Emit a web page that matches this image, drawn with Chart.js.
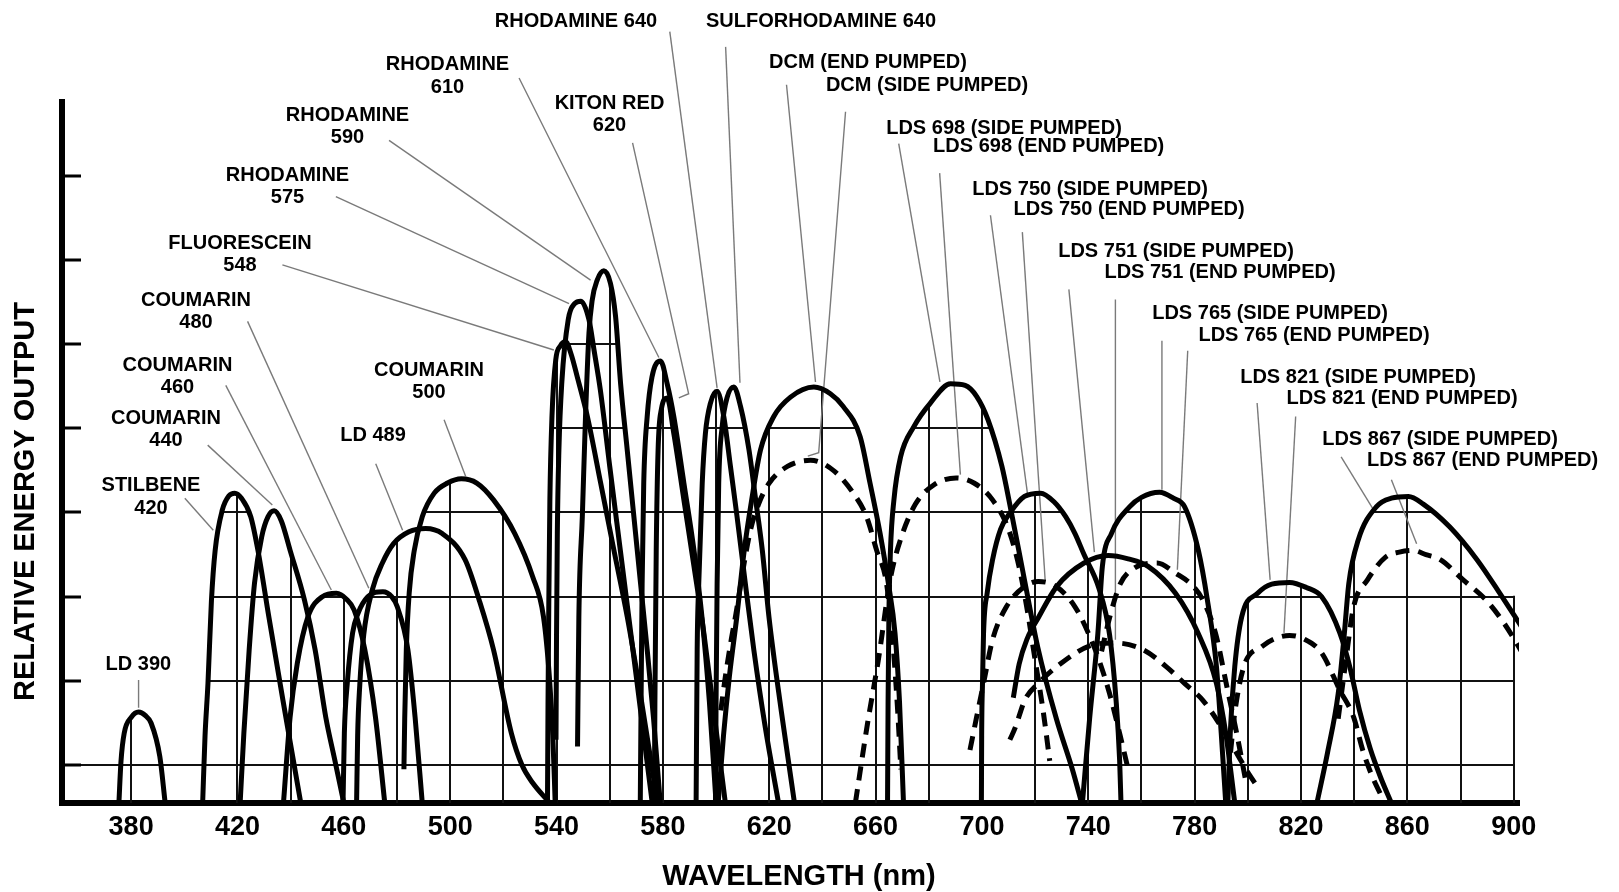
<!DOCTYPE html>
<html><head><meta charset="utf-8">
<script src="https://cdn.jsdelivr.net/npm/chart.js@4.4.1/dist/chart.umd.min.js"></script>
<style>html,body{margin:0;padding:0;background:#fff;}canvas{display:block;}</style>
</head><body>
<canvas id="c" width="1619" height="892"></canvas>
<script>
// ---------- data (wavelength nm, relative output) ----------
const xTickLabels = [380,420,460,500,540,580,620,660,700,740,780,820,860,900];
const xGridValues = [380,400,420,440,460,480,500,520,540,560,580,600,620,640,660,680,700,720,740,760,780,800,820,840,860,880,900];
const yTickValues = [4.5,14.5,24.5,34.5,44.5,54.5,64.5,74.5];
const yGridValues = [4.5,14.5,24.5,34.5,44.5,54.5];

const LD390 = [[375.4,0],[376.2,5],[377.4,8.3],[380.1,10.2],[382.8,10.8],[385.3,10.4],[387.5,9.5],[390.8,5.5],[392.8,0]];
const STILBENE420 = [[406.9,0],[407.8,8],[408.9,14.2],[410.2,24],[411.6,30],[414.3,34.8],[416.8,36.5],[419,36.8],[421.5,36.2],[425,34],[427.7,30],[431.8,22.1],[437.1,12.2],[440.5,6],[443.8,0]];
const COUMARIN440 = [[421,0],[422.4,8.3],[424.4,18.2],[426.4,26.1],[429.1,31.6],[431.5,34],[433.8,34.7],[436.5,33.5],[439.8,30],[445.2,24.1],[449.2,18.2],[453.2,10.2],[456.6,5.1],[460,0]];
const COUMARIN460 = [[437.3,0],[439.8,10.2],[442.5,16.6],[446.5,22.1],[451.9,24.5],[457.2,24.9],[461,24.2],[463.9,22.9],[467.9,18.2],[471.9,10.2],[475.4,0]];
const COUMARIN480 = [[459.7,0],[460.2,8.3],[461.3,14.2],[463.3,20.2],[465.3,22.5],[469,24.5],[474.7,25.1],[478,24.5],[480.1,23.3],[484.1,18.2],[486.8,10.2],[489.5,0]];
const LD489 = [[464.8,0],[465.2,8],[466,14],[467.5,20],[470.7,25.3],[474.5,28.5],[478.7,30.8],[484.5,32.2],[490.8,32.6],[497,32],[505.6,28.9],[511,24],[516.3,18.2],[523,8.3],[527,4.5],[531,2.4],[537.5,0]];
const COUMARIN500 = [[482.6,4],[482.9,10],[483.5,18.2],[484.6,25],[486.5,30],[489.5,34],[494,36.8],[499,38],[504.2,38.5],[510,38],[516.3,36],[524.3,32],[531,26.9],[535.1,22.1],[537.3,15],[538.6,8],[539.5,0]];
const FLUORESCEIN548 = [[536.6,0],[536.8,12],[537.1,24],[537.5,36],[538.3,46],[539.7,52.6],[541.5,54.3],[543.4,54.8],[545.5,53.3],[547.8,50.6],[551.6,45.9],[556.6,38],[561.6,30],[566.6,22.1],[571,14],[575,6],[578,0]];
const RHODAMINE575 = [[539.8,7.5],[540,20],[540.3,32],[540.9,42],[542,50],[544.4,57.4],[546.8,59.3],[549.1,59.6],[552.2,57.4],[554.1,53.8],[556.5,49],[560,40],[564,30],[568,20],[572,10],[576,0]];
const RHODAMINE590 = [[547.9,6.7],[548.4,22.1],[549.7,34],[550.9,45.9],[552.2,55.8],[553.4,59.7],[555.3,62.1],[557.8,63.2],[560.3,61.7],[562.2,57.8],[564.1,49.8],[566.6,41.9],[569.1,34],[571.6,26.1],[574.1,18.2],[576.5,10],[579,0]];
const RHODAMINE610 = [[571.5,0],[571.8,12],[572.2,26.1],[572.8,38],[574.1,45.9],[575.9,50.6],[579.1,52.5],[581.6,49.8],[584.1,45.9],[587.9,38],[591.7,30],[594.7,22.1],[597.5,12],[600,0]];
const KITONRED620 = [[576.8,0],[577,12],[577.5,30],[578.2,41.9],[579.4,46.7],[581.6,48.1],[584.1,43.9],[587.9,36],[591.7,28.1],[595.4,20.2],[599.5,10],[603.5,0]];
const RHODAMINE640 = [[592.5,0],[592.9,18.2],[593.5,26.1],[594.8,38],[596,43.9],[597.9,47.5],[600.4,48.9],[602.9,45.9],[605.4,40],[607.9,34],[611,26.1],[614.2,18.2],[618.5,9],[623.5,0]];
const SULFORHODAMINE640 = [[599.8,0],[600,12],[600.4,26.1],[601,38],[602.3,44.7],[604.2,48.2],[606.7,49.4],[609.2,47.1],[612.4,41.9],[614.9,36],[617.4,30],[619.9,22.1],[624.5,11],[629.5,0]];
const DCM_END = [[600.8,0],[602.8,8],[605,15],[607.8,22.1],[610.6,30],[613.4,36],[616.7,41.9],[621.7,45.9],[628,48.2],[636.8,49.4],[643,48.6],[647.8,47.1],[654.2,43.5],[657.9,38],[661.7,32],[664.8,26.1],[667.3,20.2],[669,12],[670.5,0]];
const DCM_SIDE = [[601.8,11],[603.5,15],[605.5,19],[607.5,22.5],[610.3,28],[613,32.5],[616,35.5],[620,38],[627,40],[635.5,40.7],[644.1,39.5],[651.6,36.8],[656.6,34],[660.4,30],[664.1,26.1],[666.5,19],[668.3,11],[669.5,4]];
const LDS698_SIDE = [[664.5,0],[664.7,12],[665,22.1],[665.6,30],[666.9,36],[669.4,41.1],[674.4,44.7],[680.6,47.5],[688.2,49.8],[693.7,49.6],[698,48.3],[702.3,45.5],[707.5,40],[710.9,34.8],[716,26.5],[721,18.5],[728,10],[734,4],[737.5,0]];
const LDS698_END = [[652.4,0],[657,9.5],[661,16.9],[665.6,26.7],[669.7,31.6],[675,35.5],[682,37.8],[690.3,38.6],[697,38],[704,36],[710,32.5],[714,28],[717,23],[720,17],[723,11],[725.5,5]];
const LDS750_SIDE = [[699.8,0],[699.9,8],[700.2,14],[700.6,20.1],[702,25],[704,28.9],[707,32.5],[710.9,34.6],[716,36.4],[722.1,36.8],[727,35.8],[731.5,34],[735,32],[738.4,29.5],[744,25.5],[748,20],[750.5,12],[751.8,5],[752.3,0]];
const LDS750_END = [[695.5,6.3],[698,10.2],[700.6,14.2],[704,19.4],[709.2,23.3],[716,25.7],[721.2,26.3],[728,25.7],[735,23.3],[740,20.2],[744,17],[748,13],[752,8],[755,4]];
const LDS751_SIDE = [[711.8,12.5],[714,16.5],[717,19.5],[721.2,22],[728.1,25.7],[738.4,28.5],[747.5,29.4],[755,29],[762.5,28.1],[772.8,24.9],[781.4,20.1],[788.2,14.2],[791.7,8.3],[795.1,0]];
const LDS751_END = [[710.5,7.5],[712.6,9],[716.1,12.2],[721.2,14.2],[729.8,16.6],[740.1,18.6],[750.4,19],[760.7,18.2],[769.3,16.2],[776.2,14.2],[783.1,12.2],[789.9,9.1],[795.1,6.3],[800.3,3.5],[803.7,1.9]];
const LDS765_SIDE = [[737.8,0],[740.5,10],[743.6,20.1],[745.3,28.1],[748.7,32],[755.6,35.2],[760,36.3],[766.8,36.9],[772,36.2],[776.2,35.2],[781.4,30],[784.8,24.1],[788.2,16.2],[790,8.3],[791.7,0]];
const LDS765_END = [[745,18],[748,22],[752,26],[757.3,27.9],[765.9,28.5],[772.8,27.3],[779.6,25.7],[783.1,24.1],[788,20],[792,14],[796,8],[799,3]];
const LDS821_SIDE = [[792.5,0],[793.4,8.3],[795.1,16.2],[797.7,22.1],[803.7,24.9],[809,26],[815.7,26.2],[822,25.6],[827.8,24.5],[834.6,20.2],[838.5,16],[842,11],[846,6.5],[850,3],[854,0]];
const LDS821_END = [[793.5,6],[795,10.5],[798.5,16.2],[805.4,18.6],[810,19.5],[815.7,19.9],[821,19.5],[827.8,17.8],[834.6,13.4],[839.8,10.2],[843.2,6.3],[847,3],[850,1]];
const LDS867_SIDE = [[826,0],[830,6],[834,13],[836.3,20.1],[838,26.1],[841.5,31.2],[848.4,35.2],[854,36.2],[860.4,36.4],[866,35.5],[875.9,32.8],[886.2,28.9],[894.8,24.9],[903,20.9]];
const LDS867_END = [[834,10],[836.5,16],[839.8,23.3],[845,26.5],[851.8,29.2],[857,29.8],[862.1,30],[867,29.5],[872.4,28.9],[881,26.5],[889.6,24.1],[896.5,21.3],[903.3,17.8]];

const solidCurves = [LD390,STILBENE420,COUMARIN440,COUMARIN460,COUMARIN480,LD489,COUMARIN500,FLUORESCEIN548,RHODAMINE575,RHODAMINE590,RHODAMINE610,KITONRED620,RHODAMINE640,SULFORHODAMINE640,DCM_END,LDS698_SIDE,LDS750_SIDE,LDS751_SIDE,LDS765_SIDE,LDS821_SIDE,LDS867_SIDE];
const dashedCurves = [DCM_SIDE,LDS698_END,LDS750_END,LDS751_END,LDS765_END,LDS821_END,LDS867_END];

// leader lines (label -> curve), in data units
const leaderLines = [
 [[382.8,14.6],[382.8,11.3]],
 [[400.2,36.2],[410.9,32.4]],
 [[408.8,42.5],[433.1,35.4]],
 [[415.6,49.6],[455.3,25.3]],
 [[423.8,57.2],[469.4,25.5]],
 [[472.0,40.3],[482.1,32.4]],
 [[497.7,45.5],[505.8,38.8]],
 [[436.9,63.9],[539.0,53.8]],
 [[457.0,72.0],[544.7,59.3]],
 [[477.0,78.7],[552.8,62.1]],
 [[525.9,86.1],[578.5,52.9]],
 [[568.6,78.4],[589.7,48.6],[586.0,48.1]],
 [[582.6,91.6],[600.4,49.3]],
 [[603.6,89.8],[609.0,49.9]],
 [[626.5,85.3],[637.4,50.0]],
 [[648.7,82.1],[638.6,41.6],[634.5,41.2]],
 [[668.7,78.3],[684.2,50.0]],
 [[684.1,74.8],[691.9,39.0]],
 [[703.2,69.8],[717.1,36.8]],
 [[715.2,67.8],[723.8,26.4]],
 [[732.7,61.0],[742.3,29.8]],
 [[750.2,59.8],[750.2,19.4]],
 [[767.7,54.9],[767.7,37.2]],
 [[777.4,53.7],[773.5,27.7]],
 [[803.5,47.5],[808.4,26.5]],
 [[818.0,45.9],[813.6,20.2]],
 [[835.1,41.1],[847.3,34.8]],
 [[854.0,38.4],[863.5,30.8]]
];

// label text and placement (px)
const labelLayout = [
 {t:['RHODAMINE 640'], x:576, y:21.6},
 {t:['SULFORHODAMINE 640'], x:821, y:21.6},
 {t:['DCM (END PUMPED)'], x:868, y:62.5},
 {t:['DCM (SIDE PUMPED)'], x:927, y:85.5},
 {t:['RHODAMINE','610'], x:447.5, y:64.5},
 {t:['KITON RED','620'], x:609.5, y:103},
 {t:['RHODAMINE','590'], x:347.5, y:115},
 {t:['RHODAMINE','575'], x:287.5, y:175},
 {t:['FLUORESCEIN','548'], x:240, y:243.3},
 {t:['COUMARIN','480'], x:196, y:300},
 {t:['COUMARIN','460'], x:177.5, y:365},
 {t:['COUMARIN','440'], x:166, y:418.3},
 {t:['STILBENE','420'], x:151, y:485.5},
 {t:['COUMARIN','500'], x:429, y:370},
 {t:['LD 489'], x:373, y:435},
 {t:['LD 390'], x:138.4, y:664},
 {t:['LDS 698 (SIDE PUMPED)'], x:1004, y:128.3},
 {t:['LDS 698 (END PUMPED)'], x:1048.7, y:146.7},
 {t:['LDS 750 (SIDE PUMPED)'], x:1090, y:189},
 {t:['LDS 750 (END PUMPED)'], x:1129, y:209},
 {t:['LDS 751 (SIDE PUMPED)'], x:1176, y:251},
 {t:['LDS 751 (END PUMPED)'], x:1220, y:272.6},
 {t:['LDS 765 (SIDE PUMPED)'], x:1270, y:313},
 {t:['LDS 765 (END PUMPED)'], x:1314, y:335.6},
 {t:['LDS 821 (SIDE PUMPED)'], x:1358, y:377},
 {t:['LDS 821 (END PUMPED)'], x:1402, y:398.5},
 {t:['LDS 867 (SIDE PUMPED)'], x:1440, y:439},
 {t:['LDS 867 (END PUMPED)'], x:1482.6, y:460.8}
];

const FONT = '"Liberation Sans", Arial, Helvetica, sans-serif';
const toXY = arr => arr.map(([x, y]) => ({x, y}));

const datasets = [];
solidCurves.forEach(c => datasets.push({data: toXY(c), isCurve: true, borderColor: '#000', borderWidth: 5, pointRadius: 0, fill: false, cubicInterpolationMode: 'monotone', order: 1}));
dashedCurves.forEach(c => datasets.push({data: toXY(c), isCurve: true, borderColor: '#000', borderWidth: 5, borderDash: [14, 9], pointRadius: 0, fill: false, cubicInterpolationMode: 'monotone', order: 1}));
leaderLines.forEach(l => datasets.push({data: toXY(l), isCurve: false, borderColor: '#7a7a7a', borderWidth: 1.4, pointRadius: 0, fill: false, tension: 0, clip: false, order: 2}));

const decor = {
  id: 'decor',
  beforeDatasetsDraw(chart) {
    const {ctx, chartArea: ca, scales: {x, y}} = chart;
    const yb = y.getPixelForValue(0);
    const xEnd = x.getPixelForValue(900);
    ctx.save();
    ctx.beginPath();
    chart.data.datasets.forEach((ds, i) => {
      if (!ds.isCurve) return;
      const line = chart.getDatasetMeta(i).dataset;
      line.updateControlPoints(ca, 'x');
      const pts = line.points;
      line.path(ctx);
      ctx.lineTo(pts[pts.length - 1].x, yb);
      ctx.lineTo(pts[0].x, yb);
      ctx.closePath();
    });
    const bx = x.getPixelForValue(880), by = y.getPixelForValue(yGridValues[2]) - 1;
    ctx.rect(bx, by, xEnd - bx + 1.5, yb - by);
    ctx.clip();
    ctx.strokeStyle = '#111'; ctx.lineWidth = 2;
    ctx.beginPath();
    xGridValues.forEach(v => { const p = Math.round(x.getPixelForValue(v)); ctx.moveTo(p, yb); ctx.lineTo(p, ca.top); });
    yGridValues.forEach(v => { const p = Math.round(y.getPixelForValue(v)); ctx.moveTo(ca.left, p); ctx.lineTo(xEnd + 1, p); });
    ctx.stroke();
    ctx.restore();

    ctx.save();
    ctx.strokeStyle = '#111'; ctx.lineWidth = 2;
    const p0 = Math.round(y.getPixelForValue(yGridValues[0]));
    ctx.beginPath(); ctx.moveTo(ca.left, p0); ctx.lineTo(xEnd + 1, p0); ctx.stroke();
    ctx.strokeStyle = '#000'; ctx.lineWidth = 3;
    ctx.beginPath();
    yTickValues.forEach(v => { const p = Math.round(y.getPixelForValue(v)); ctx.moveTo(ca.left, p); ctx.lineTo(ca.left + 19, p); });
    ctx.stroke();
    ctx.restore();
  },
  afterDraw(chart) {
    const {ctx} = chart;
    ctx.save();
    ctx.fillStyle = '#000';
    ctx.textAlign = 'center';
    ctx.textBaseline = 'middle';
    ctx.font = 'bold 20px ' + FONT;
    labelLayout.forEach(l => l.t.forEach((s, k) => ctx.fillText(s, l.x, l.y + k * 22.5)));
    ctx.font = 'bold 29px ' + FONT;
    ctx.fillText('WAVELENGTH (nm)', 799, 877);
    ctx.translate(26, 501.5);
    ctx.rotate(-Math.PI / 2);
    ctx.fillText('RELATIVE ENERGY OUTPUT', 0, 0);
    ctx.restore();
  }
};

new Chart(document.getElementById('c'), {
  type: 'line',
  data: {datasets},
  options: {
    responsive: false,
    animation: false,
    devicePixelRatio: 1,
    layout: {padding: {left: 0, right: 100, top: 102, bottom: 0}},
    plugins: {legend: {display: false}, tooltip: {enabled: false}},
    scales: {
      x: {
        type: 'linear', min: 354, max: 902,
        afterBuildTicks: s => { s.ticks = xTickLabels.map(v => ({value: v})); },
        afterFit: s => { s.height = 89; },
        grid: {display: false, drawTicks: false},
        border: {display: true, width: 6, color: '#000'},
        ticks: {color: '#000', padding: 8, maxRotation: 0, autoSkip: false, font: {family: FONT, size: 27, weight: 'bold'}}
      },
      y: {
        type: 'linear', min: 0, max: 83.25,
        afterBuildTicks: s => { s.ticks = yTickValues.map(v => ({value: v})); },
        afterFit: s => { s.width = 62; },
        grid: {display: false, drawTicks: false},
        border: {display: true, width: 6, color: '#000'},
        ticks: {display: false}
      }
    }
  },
  plugins: [decor]
});
</script>
</body></html>
